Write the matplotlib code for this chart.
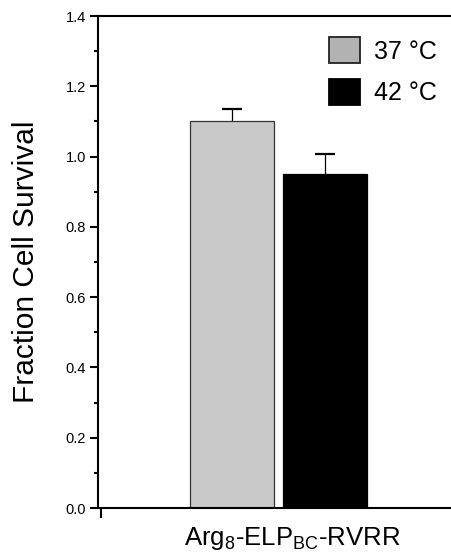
import matplotlib
matplotlib.use("Agg")
import matplotlib.pyplot as plt
import matplotlib.transforms as mtransforms
from matplotlib.patches import Patch
import numpy as np

plt.rcParams['font.family'] = ['Liberation Sans', 'DejaVu Sans']

# data
categories = [r'Arg$_\mathregular{8}$-ELP$_\mathregular{BC}$-RVRR']
series_names = ['37 °C', '42 °C']
values_37 = [1.10]
values_42 = [0.951]
err_37 = [0.034]
err_42 = [0.055]
yticks = [0.0, 0.2, 0.4, 0.6, 0.8, 1.0, 1.2, 1.4]

bar_colors = ['#c9c9c9', '#000000']
legend_colors = ['#b2b2b2', '#000000']

fig = plt.figure(figsize=(4.52, 5.54), dpi=100)
ax = fig.add_axes([98.3/452, 1-508/554, 1-98.3/452, (508-16)/554])

x = np.arange(len(categories))
w = 0.9
off = 0.5
ax.bar(x - off, values_37, width=w, color=bar_colors[0], edgecolor='#333333', linewidth=0.9, zorder=2)
ax.bar(x + off, values_42, width=w, color=bar_colors[1], edgecolor='#000000', linewidth=0.9, zorder=2)
for xs, v, e in [(x - off, values_37, err_37), (x + off, values_42, err_42)]:
    ax.errorbar(xs, v, yerr=e, fmt='none', ecolor='black',
                elinewidth=0.9, capsize=7.5, capthick=1.6, zorder=1)

xmin, xmax = -1.931, 1.86
ax.set_xlim(xmin, xmax)
ax.set_ylim(0, 1.4)
ax.set_yticks(yticks)
ax.set_yticklabels([f'{t:.1f}' for t in yticks])
ax.set_yticks(np.arange(0.1, 1.4, 0.2), minor=True)
ax.set_xticks(x)
ax.set_xticklabels(categories, fontsize=18.5)
ax.set_xticks([xmin + 0.026], minor=True)

ax.tick_params(axis='y', which='major', direction='out', length=6, width=1.5, labelsize=10.5, pad=3)
ax.tick_params(axis='y', which='minor', direction='out', length=3, width=1.5)
ax.tick_params(axis='x', which='major', length=0, pad=12)
ax.tick_params(axis='x', which='minor', direction='out', length=7.5, width=1.5)

shift = mtransforms.ScaledTranslation(14/100, 0, fig.dpi_scale_trans)
for lab in ax.get_xticklabels():
    lab.set_transform(lab.get_transform() + shift)

for s in ['left', 'top', 'bottom']:
    ax.spines[s].set_linewidth(1.5)
ax.spines['right'].set_visible(False)

ax.set_ylabel('Fraction Cell Survival', fontsize=21.5)
ax.yaxis.set_label_coords(-0.165, 0.5)

handles = [Patch(facecolor=legend_colors[0], edgecolor='#222222', linewidth=1.3),
           Patch(facecolor=legend_colors[1], edgecolor='#000000', linewidth=1.3)]
ax.legend(handles, series_names, loc='upper left', bbox_to_anchor=(329/452, 1-37/554),
          bbox_transform=fig.transFigure, frameon=False, fontsize=18,
          handlelength=1.24, handleheight=1.24, handletextpad=0.55, labelspacing=0.6,
          borderpad=0, borderaxespad=0)

fig.savefig('out.png', dpi=100)
